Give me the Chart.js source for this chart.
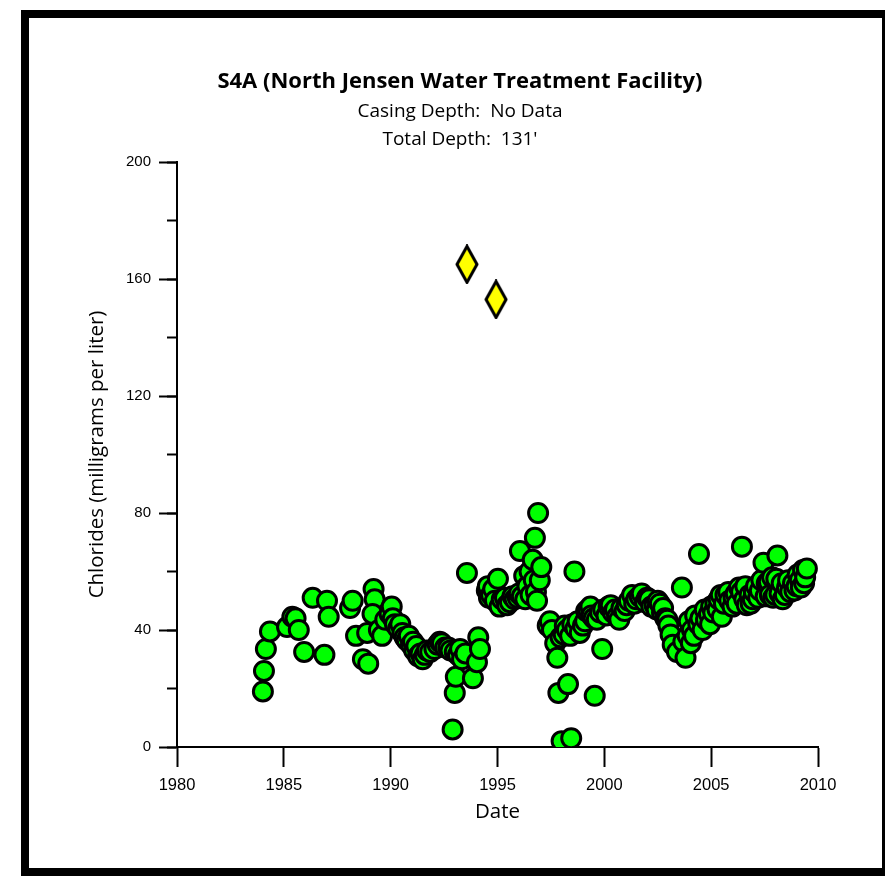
<!DOCTYPE html>
<html>
<head>
<meta charset="utf-8">
<script src="https://cdn.jsdelivr.net/npm/chart.js@4.4.1/dist/chart.umd.min.js"></script>
<style>
    body{ margin:0; background:#fff; }
    #frame{
        position:absolute; left:21px; top:10px;
        width:869px; height:866px;
        box-sizing:border-box;
        border:8px solid #000;
    }
    #wrap{ position:absolute; left:0; top:0; width:885px; height:880px; }
</style>
</head>
<body>
<div id="frame"></div>
<div id="wrap"><canvas id="chart" width="885" height="880"></canvas></div>
<script>

// DATA

const titleText = "S4A (North Jensen Water Treatment Facility)";
const subtitleLines = ["Casing Depth:  No Data", "Total Depth:  131'"];
const xTitle = "Date";
const yTitle = "Chlorides (milligrams per liter)";

const xTicks = [1980, 1985, 1990, 1995, 2000, 2005, 2010];
const yTicks = [0, 40, 80, 120, 160, 200];

// green circles
const sampleYears = [
    1984.02, 1984.07, 1984.16, 1984.35, 1985.15, 1985.40, 1985.55, 1985.70, 1985.95,
    1986.35, 1986.90, 1987.02, 1987.10, 1988.10, 1988.22, 1988.38, 1988.70, 1988.95,
    1988.90, 1989.20, 1989.25, 1989.15, 1989.45, 1989.60, 1989.75, 1989.95, 1990.05,
    1990.10, 1990.20, 1990.35, 1990.45, 1990.55, 1990.65, 1990.75, 1990.85, 1990.95,
    1991.05, 1991.10, 1991.20, 1991.28, 1991.40, 1991.50, 1991.60, 1991.70, 1991.85,
    1992.05, 1992.20, 1992.30, 1992.40, 1992.55, 1992.70, 1992.80, 1992.90, 1993.00,
    1993.05, 1993.00, 1993.15, 1993.25, 1993.34, 1993.50, 1993.57, 1993.85, 1994.04,
    1994.10, 1994.18, 1994.50, 1994.55, 1994.60, 1994.70, 1994.80, 1994.88, 1995.02,
    1995.10, 1995.20, 1995.35, 1995.45, 1995.58, 1995.70, 1995.80, 1995.95, 1996.00,
    1996.05, 1996.14, 1996.25, 1996.30, 1996.40, 1996.50, 1996.55, 1996.65, 1996.70,
    1996.75, 1996.80, 1996.85, 1996.90, 1996.98, 1997.05, 1997.35, 1997.45, 1997.55,
    1997.70, 1997.80, 1997.85, 1997.95, 1998.00, 1998.10, 1998.15, 1998.25, 1998.30,
    1998.40, 1998.45, 1998.50, 1998.60, 1998.65, 1998.75, 1998.85, 1999.00, 1999.10,
    1999.15, 1999.25, 1999.35, 1999.40, 1999.50, 1999.55, 1999.65, 1999.80, 1999.90,
    1999.95, 2000.10, 2000.20, 2000.30, 2000.40, 2000.50, 2000.60, 2000.70, 2000.80,
    2000.95, 2001.05, 2001.15, 2001.30, 2001.40, 2001.50, 2001.65, 2001.75, 2001.90,
    2002.00, 2002.10, 2002.20, 2002.35, 2002.45, 2002.50, 2002.60, 2002.70, 2002.75,
    2002.85, 2002.95, 2003.00, 2003.10, 2003.20, 2003.40, 2003.63, 2003.70, 2003.80,
    2003.90, 2003.95, 2004.05, 2004.10, 2004.20, 2004.25, 2004.43, 2004.40, 2004.50,
    2004.60, 2004.70, 2004.76, 2004.90, 2004.95, 2005.00, 2005.10, 2005.20, 2005.30,
    2005.35, 2005.45, 2005.50, 2005.60, 2005.67, 2005.80, 2005.85, 2006.00, 2006.05,
    2006.15, 2006.20, 2006.30, 2006.40, 2006.44, 2006.55, 2006.60, 2006.67, 2006.80,
    2006.85, 2006.95, 2007.00, 2007.10, 2007.20, 2007.28, 2007.35, 2007.45, 2007.55,
    2007.60, 2007.70, 2007.75, 2007.85, 2007.90, 2008.00, 2008.05, 2008.10, 2008.20,
    2008.30, 2008.35, 2008.45, 2008.55, 2008.60, 2008.70, 2008.83, 2008.90, 2009.00,
    2009.05, 2009.15, 2009.20, 2009.30, 2009.35, 2009.40, 2009.48
];

const chlorides = [
    19, 26, 33.5, 39.5, 41, 44.5, 44, 40, 32.5,
    51, 31.5, 50, 44.5, 47.5, 50, 38, 30, 28.5,
    39, 54, 50.5, 45.5, 40, 38, 43.5, 45.5, 48,
    44, 42, 40.5, 42, 39, 37.5, 36.5, 38, 35,
    36, 33, 34.5, 31, 32, 30, 31.5, 33, 32.5,
    33.5, 35, 36, 35.5, 34, 34, 33, 6, 18.5,
    24, 32.5, 31.5, 33.5, 30, 32, 59.5, 23.5, 29,
    37.5, 33.5, 53.5, 55, 51, 52, 54, 50, 57.5,
    48, 50.5, 51, 48.5, 49.5, 51.5, 50.5, 51, 52.5,
    67, 51.5, 58.5, 50.5, 55, 60, 52, 64, 57,
    71.5, 53, 50, 80, 57, 61.5, 41.5, 43, 40,
    35.5, 30.5, 18.5, 37.5, 2, 38.5, 41.5, 40, 21.5,
    38, 3, 42, 60, 40.5, 43, 39, 41.5, 43,
    46.5, 47, 48, 45, 44, 17.5, 43.5, 46, 33.5,
    47, 45, 48, 48.5, 46, 47, 44.5, 43.5, 47.5,
    46.5, 48.5, 50, 52, 49, 50.5, 51.5, 52.5, 49.5,
    51, 50.5, 48, 48.5, 47, 50, 49, 46, 47.5,
    44, 43.5, 41.5, 38.5, 35, 32.5, 54.5, 36, 30.5,
    38, 43, 35.5, 40, 38, 45, 66, 42, 44,
    40, 47, 43.5, 45.5, 42, 48, 46, 49, 47,
    50.5, 52, 44.5, 49, 52, 53, 50, 48, 51,
    52.5, 49, 54.5, 53, 68.5, 50.5, 55, 48.5, 52,
    49, 50.5, 53, 55, 51, 53.5, 57, 63, 51.5,
    56, 56.5, 52, 58, 51, 52, 57.5, 65.5, 52.5,
    56, 50.5, 52, 54.5, 57, 53, 56, 53.5, 55,
    59, 57, 54.5, 60.5, 56, 58, 61
];

// yellow diamonds
const diamondYears = [1993.57, 1994.93];
const diamondValues = [165, 153];

// POINTS

function toPoints(xs, ys){
    return xs.map((x, i) => ({ x: x, y: ys[i] }));
}

// tall diamond marker
function makeDiamond(){
    let c = document.createElement("canvas");
    c.width = 24;
    c.height = 40;
    let g = c.getContext("2d");
    g.beginPath();
    g.moveTo(12, 2);
    g.lineTo(22, 20);
    g.lineTo(12, 38);
    g.lineTo(2, 20);
    g.closePath();
    g.fillStyle = "#ffff00";
    g.fill();
    g.lineWidth = 3;
    g.strokeStyle = "#000";
    g.stroke();
    return c;
}

// CHART

const xTickFont = { family: "'Liberation Sans', Arial", size: 16.5 };
const yTickFont = { family: "'Liberation Sans', Arial", size: 15 };
const labelFont = { family: "'Open Sans'", size: 20.5 };

new Chart(document.getElementById("chart"), {

    type: "scatter",

    data: {
        datasets: [
            {
                data: toPoints(sampleYears, chlorides),
                backgroundColor: "#00ff00",
                borderColor: "#000",
                borderWidth: 3,
                pointRadius: 9.5,
                pointHoverRadius: 9.5
            },
            {
                data: toPoints(diamondYears, diamondValues),
                pointStyle: makeDiamond(),
                pointRadius: 12
            }
        ]
    },

    options: {
        responsive: false,
        animation: false,
        events: [],
        layout: {
            padding: { left: 102, right: 67, top: 69, bottom: 56 }
        },
        plugins: {
            legend: { display: false },
            tooltip: { enabled: false },
            title: {
                display: true,
                text: titleText,
                color: "#000",
                font: { family: "'Open Sans'", size: 22, weight: "bold", lineHeight: 1.2 },
                padding: { top: 0, bottom: 2 }
            },
            subtitle: {
                display: true,
                text: subtitleLines,
                color: "#000",
                font: { family: "'Open Sans'", size: 19, lineHeight: 28 / 19 },
                padding: { top: 0, bottom: 8.6 }
            }
        },
        scales: {
            x: {
                type: "linear",
                min: xTicks[0],
                max: xTicks[xTicks.length - 1],
                afterBuildTicks: s => { s.ticks = xTicks.map(v => ({ value: v })); },
                afterFit: s => { s.height = 77; },
                grid: {
                    drawOnChartArea: false,
                    tickLength: 20,
                    tickWidth: 2,
                    tickColor: "#000"
                },
                border: { color: "#000", width: 2 },
                ticks: {
                    color: "#000",
                    font: xTickFont,
                    padding: 9,
                    maxRotation: 0,
                    callback: v => String(v)
                },
                title: {
                    display: true,
                    text: xTitle,
                    color: "#000",
                    font: labelFont,
                    padding: { top: 0, bottom: 0 }
                }
            },
            y: {
                min: yTicks[0],
                max: yTicks[yTicks.length - 1],
                weight: 1,
                afterBuildTicks: s => { s.ticks = yTicks.map(v => ({ value: v })); },
                afterFit: s => { s.width = 75; },
                grid: {
                    drawOnChartArea: false,
                    tickLength: 18,
                    tickWidth: 2,
                    tickColor: "#000"
                },
                border: { color: "#000", width: 2 },
                ticks: {
                    color: "#000",
                    font: yTickFont,
                    padding: 8
                },
                title: {
                    display: true,
                    text: yTitle,
                    color: "#000",
                    font: labelFont,
                    padding: { top: -17, bottom: 0 }
                }
            },
            yMinor: {
                position: "left",
                min: yTicks[0],
                max: yTicks[yTicks.length - 1],
                weight: 0,
                ticks: { stepSize: 20, display: false },
                afterFit: s => { s.width = 0; },
                grid: {
                    drawOnChartArea: false,
                    tickLength: 10,
                    tickWidth: 2,
                    tickColor: "#000"
                },
                border: { display: false }
            }
        }
    }
});

</script>
</body>
</html>
